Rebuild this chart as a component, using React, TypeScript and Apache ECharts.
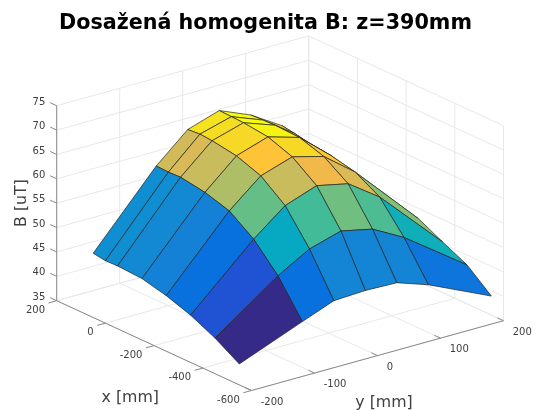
import React, { useEffect, useRef } from "react";
import * as echarts from "echarts";

const xGrid = [50, 0, -50, -150, -250, -350, -450, -550];
const yGrid = [-200, -100, -50, 0, 50, 100, 200];
const bFieldYm200 = [48.2, 47.8, 47.9, 47.6, 46.4, 44.7, 42.3, 39.3];
const bFieldYm100 = [62.5, 62.4, 62.5, 61.7, 60.2, 56.7, 51.5, 44.4];
const bFieldYm50 = [68.2, 68.4, 68.2, 67.4, 65.6, 61.8, 55.2, 46.9];
const bFieldY0 = [70.3, 70.2, 70.1, 69.5, 67.7, 64.1, 57.1, 47.2];
const bFieldY50 = [67.6, 67.7, 67.8, 67.6, 66.0, 62.7, 55.7, 47.0];
const bFieldY100 = [63.6, 63.2, 62.7, 62.1, 61.0, 58.2, 52.2, 44.8];
const bFieldY200 = [50.7, 50.3, 49.6, 48.6, 47.9, 45.4, 43.0, 38.9];
const bField = [bFieldYm200, bFieldYm100, bFieldYm50, bFieldY0, bFieldY50, bFieldY100, bFieldY200];

const xTicks = [200, 0, -200, -400, -600];
const yTicks = [-200, -100, 0, 100, 200];
const zTicks = [35, 40, 45, 50, 55, 60, 65, 70, 75];

const titleText = "Dosažená homogenita B: z=390mm";
const xLabel = "x [mm]";
const yLabel = "y [mm]";
const zLabel = "B [uT]";

const parula = [
  [0.2081, 0.1663, 0.5292], [0.2116, 0.1898, 0.5777], [0.2123, 0.2138, 0.627], [0.2081, 0.2386, 0.6771],
  [0.1959, 0.2645, 0.7279], [0.1707, 0.2919, 0.7792], [0.1253, 0.3242, 0.8303], [0.0591, 0.3598, 0.8683],
  [0.0117, 0.3875, 0.882], [0.006, 0.4086, 0.8828], [0.0165, 0.4266, 0.8786], [0.0329, 0.443, 0.872],
  [0.0498, 0.4586, 0.8641], [0.0629, 0.4737, 0.8554], [0.0723, 0.4887, 0.8467], [0.0779, 0.504, 0.8384],
  [0.0793, 0.52, 0.8312], [0.0749, 0.5375, 0.8263], [0.0641, 0.557, 0.824], [0.0488, 0.5772, 0.8228],
  [0.0343, 0.5966, 0.8199], [0.0265, 0.6137, 0.8135], [0.0239, 0.6287, 0.8038], [0.0231, 0.6418, 0.7913],
  [0.0228, 0.6535, 0.7768], [0.0267, 0.6642, 0.7607], [0.0384, 0.6743, 0.7436], [0.059, 0.6838, 0.7254],
  [0.0843, 0.6928, 0.7062], [0.1133, 0.7015, 0.6859], [0.1453, 0.7098, 0.6646], [0.1801, 0.7177, 0.6424],
  [0.2178, 0.725, 0.6193], [0.2586, 0.7317, 0.5954], [0.3022, 0.7376, 0.5712], [0.3482, 0.7424, 0.5473],
  [0.3953, 0.7459, 0.5244], [0.442, 0.7481, 0.5033], [0.4871, 0.7491, 0.484], [0.53, 0.7491, 0.4661],
  [0.5709, 0.7485, 0.4494], [0.6099, 0.7473, 0.4337], [0.6473, 0.7456, 0.4188], [0.6834, 0.7435, 0.4044],
  [0.7184, 0.7411, 0.3905], [0.7525, 0.7384, 0.3768], [0.7858, 0.7356, 0.3633], [0.8185, 0.7327, 0.3498],
  [0.8507, 0.7299, 0.336], [0.8824, 0.7274, 0.3217], [0.9139, 0.7258, 0.3063], [0.945, 0.7261, 0.2886],
  [0.9739, 0.7314, 0.2666], [0.9938, 0.7455, 0.2403], [0.999, 0.7653, 0.2164], [0.9955, 0.7861, 0.1967],
  [0.988, 0.8066, 0.1794], [0.9789, 0.8271, 0.1633], [0.9697, 0.8481, 0.1475], [0.9626, 0.8705, 0.1309],
  [0.9589, 0.8949, 0.1132], [0.9598, 0.9218, 0.0948], [0.9661, 0.9514, 0.0755], [0.9763, 0.9831, 0.0538],
];

const W = 537;
const H = 410;
const FONT = "DejaVu Sans";
const INK = "#404040";

// Orthographic projection of the data box on to the page.
const project = (x: number, y: number, z: number): [number, number] => [
  56.7 + (200 - x) * 0.2435 + (y + 200) * 0.63,
  300.7 + (200 - x) * 0.11225 - (y + 200) * 0.1745 - (z - 35) * 4.875,
];

const allZ = bField.flat();
const cMin = Math.min(...allZ);
const cMax = Math.max(...allZ);
const colorOf = (z: number) => {
  const i = Math.min(63, Math.floor(((z - cMin) / (cMax - cMin)) * 64));
  const c = parula[i].map((v) => Math.round(v * 255));
  return `rgb(${c[0]},${c[1]},${c[2]})`;
};

type Seg = [number, number, number, number, number, number];
const xMin = xTicks[xTicks.length - 1];
const xMax = xTicks[0];
const yMin = yTicks[0];
const yMax = yTicks[yTicks.length - 1];
const zMin = zTicks[0];
const zMax = zTicks[zTicks.length - 1];

const gridSegs: Seg[] = [];
xTicks.forEach((x) => {
  gridSegs.push([x, yMin, zMin, x, yMax, zMin]);
  gridSegs.push([x, yMax, zMin, x, yMax, zMax]);
});
yTicks.forEach((y) => {
  gridSegs.push([xMin, y, zMin, xMax, y, zMin]);
  gridSegs.push([xMax, y, zMin, xMax, y, zMax]);
});
zTicks.forEach((z) => {
  gridSegs.push([xMax, yMin, z, xMax, yMax, z]);
  gridSegs.push([xMax, yMax, z, xMin, yMax, z]);
});

const axisSegs: Seg[] = [
  [xMax, yMin, zMin, xMax, yMin, zMax],
  [xMax, yMin, zMin, xMin, yMin, zMin],
  [xMin, yMin, zMin, xMin, yMax, zMin],
];
zTicks.forEach((z) => axisSegs.push([xMax, yMin, z, xMax + 27, yMin, z]));
xTicks.forEach((x) => axisSegs.push([x, yMin, zMin, x, yMin - 13, zMin]));
yTicks.forEach((y) => axisSegs.push([xMin, y, zMin, xMin + 25, y, zMin]));

type Label = [string, number, number, string];
const tickLabels: Label[] = [];
zTicks.forEach((z) => {
  const p = project(xMax, yMin, z);
  tickLabels.push([String(z), 45.3, p[1] - 4.4, "right"]);
});
xTicks.forEach((x) => {
  const p = project(x, yMin, zMin);
  tickLabels.push([String(x), p[0] - 11.7, p[1] + 8.6, "right"]);
});
yTicks.forEach((y) => {
  const p = project(xMin, y, zMin);
  tickLabels.push([String(y), p[0] + 9.2, p[1] + 10.6, "left"]);
});

// Cells from the far corner to the near one, so that near ones cover far ones.
const cells: number[][] = [];
for (let j = yGrid.length - 2; j >= 0; j--) {
  for (let i = 0; i < xGrid.length - 1; i++) {
    cells.push([i, j]);
  }
}

const buildOption = () => ({
  animation: false,
  backgroundColor: "#ffffff",
  title: {
    text: titleText,
    left: 54,
    top: 6,
    textStyle: { fontFamily: FONT, fontWeight: "bold", fontSize: 20.7, color: "#000000" },
  },
  grid: { left: 0, right: 0, top: 0, bottom: 0 },
  xAxis: { type: "value", min: 0, max: W, show: false },
  yAxis: { type: "value", min: 0, max: H, inverse: true, show: false },
  graphic: [
    { type: "text", x: 130.3, y: 396.5, style: { text: xLabel, font: `15.8px '${FONT}'`, fill: INK, textAlign: "center", textVerticalAlign: "middle" } },
    { type: "text", x: 384, y: 401.3, style: { text: yLabel, font: `15.8px '${FONT}'`, fill: INK, textAlign: "center", textVerticalAlign: "middle" } },
    { type: "text", x: 20.5, y: 203, rotation: Math.PI / 2, style: { text: zLabel, font: `15.8px '${FONT}'`, fill: INK, textAlign: "center", textVerticalAlign: "middle" } },
  ],
  series: [
    {
      type: "custom",
      coordinateSystem: "cartesian2d",
      silent: true,
      clip: false,
      z: 1,
      data: gridSegs.map((s, k) => [k]),
      renderItem: (params: any, api: any) => {
        const s = gridSegs[params.dataIndex];
        const a = api.coord(project(s[0], s[1], s[2]));
        const b = api.coord(project(s[3], s[4], s[5]));
        return {
          type: "line",
          shape: { x1: a[0], y1: a[1], x2: b[0], y2: b[1] },
          style: { stroke: "#e8e8e8", lineWidth: 1, fill: "none" },
        };
      },
    },
    {
      type: "custom",
      coordinateSystem: "cartesian2d",
      silent: true,
      clip: false,
      z: 2,
      data: axisSegs.map((s, k) => [k]),
      renderItem: (params: any, api: any) => {
        const s = axisSegs[params.dataIndex];
        const a = api.coord(project(s[0], s[1], s[2]));
        const b = api.coord(project(s[3], s[4], s[5]));
        return {
          type: "line",
          shape: { x1: a[0], y1: a[1], x2: b[0], y2: b[1] },
          style: { stroke: "#8a8a8a", lineWidth: 1, fill: "none" },
        };
      },
    },
    {
      type: "custom",
      coordinateSystem: "cartesian2d",
      silent: true,
      clip: false,
      z: 3,
      data: tickLabels.map((l, k) => [k]),
      renderItem: (params: any, api: any) => {
        const l = tickLabels[params.dataIndex];
        const p = api.coord([l[1], l[2]]);
        return {
          type: "text",
          x: p[0],
          y: p[1],
          style: { text: l[0], font: `10px '${FONT}'`, fill: INK, textAlign: l[3], textVerticalAlign: "middle" },
        };
      },
    },
    {
      type: "custom",
      coordinateSystem: "cartesian2d",
      silent: true,
      clip: false,
      z: 4,
      data: cells,
      renderItem: (params: any, api: any) => {
        const [i, j] = cells[params.dataIndex];
        const corners: [number, number][] = [
          [i, j],
          [i + 1, j],
          [i + 1, j + 1],
          [i, j + 1],
        ];
        const points = corners.map(([a, b]) => api.coord(project(xGrid[a], yGrid[b], bField[b][a])));
        return {
          type: "polygon",
          z2: params.dataIndex,
          shape: { points },
          style: { fill: colorOf(bField[j][i + 1]), stroke: "#222222", lineWidth: 0.7 },
        };
      },
    },
  ],
});

export default function App() {
  const ref = useRef<HTMLDivElement>(null);
  useEffect(() => {
    document.body.style.margin = "0";
    const chart = echarts.init(ref.current as HTMLDivElement, undefined, { renderer: "svg" });
    chart.setOption(buildOption() as any);
    return () => chart.dispose();
  }, []);
  return <div ref={ref} style={{ width: W, height: H, filter: "blur(0.3px)" }} />;
}
